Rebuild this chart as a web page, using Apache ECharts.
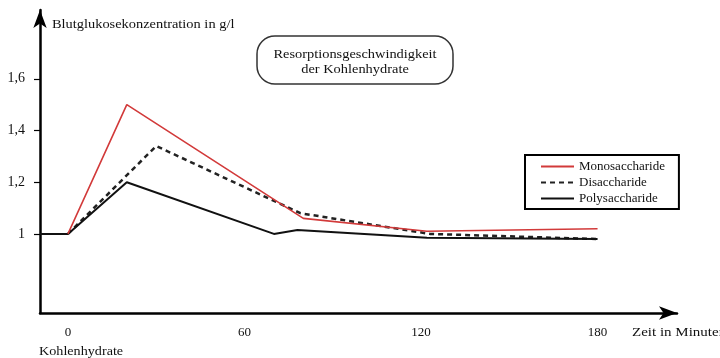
<!DOCTYPE html>
<html>
<head>
<meta charset="utf-8">
<script src="https://cdn.jsdelivr.net/npm/echarts@6/dist/echarts.min.js"></script>
<style>html,body{margin:0;padding:0;background:#fff;}#c{width:720px;height:358px;}</style>
</head>
<body>
<div id="c"></div>
<script>
// Data (time in minutes, blood glucose in g/l)
var seriesNames = ['Monosaccharide', 'Disaccharide', 'Polysaccharide'];
var monoValues = [[0, 1], [20, 1.5], [80, 1.06], [122, 1.01], [180, 1.02]];
var diValues = [[0, 1], [30, 1.34], [79, 1.08], [123, 1.0], [180, 0.98]];
var polyValues = [[-9.5, 1], [0, 1], [20, 1.2], [70, 1.0], [78, 1.015], [122, 0.985], [180, 0.98]];
var xTicks = [0, 60, 120, 180];
var yTicks = [1, 1.2, 1.4, 1.6];

var FONT = 'Liberation Serif';
var chart = echarts.init(document.getElementById('c'), null, {renderer: 'canvas'});
chart.setOption({
  animation: false,
  backgroundColor: '#fff',
  grid: {left: 40, right: 43, top: 10, bottom: 45, containLabel: false},
  xAxis: {
    type: 'value', min: -9.5, max: 207,
    splitLine: {show: false},
    axisLine: {show: true, onZero: false, lineStyle: {color: '#000', width: 2.5}, symbol: ['none', 'arrow'], symbolSize: [10, 18], symbolOffset: [0, 0]},
    axisTick: {show: false, customValues: xTicks},
    axisLabel: {customValues: xTicks, margin: 13, color: '#111', fontFamily: FONT, fontSize: 13}
  },
  yAxis: {
    type: 'value', min: 0.694, max: 1.866,
    splitLine: {show: false},
    axisLine: {show: true, onZero: false, lineStyle: {color: '#000', width: 2.5}, symbol: ['none', 'arrow'], symbolSize: [10, 18], symbolOffset: [0, 0]},
    axisTick: {show: true, customValues: yTicks, length: 6, lineStyle: {color: '#000', width: 1.2}},
    axisLabel: {customValues: yTicks, margin: 15, color: '#111', fontFamily: FONT, fontSize: 14,
      formatter: function (v) { return v === 1 ? '1' : v.toFixed(1).replace('.', ','); }}
  },
  legend: {
    orient: 'vertical', left: 525, top: 155,
    padding: [5, 14, 4, 15], itemGap: 3, itemWidth: 33, itemHeight: 14,
    borderColor: '#000', borderWidth: 2, backgroundColor: '#fff',
    itemStyle: {opacity: 0},
    textStyle: {fontFamily: FONT, fontSize: 13, color: '#111'},
    data: seriesNames
  },
  series: [
    {name: seriesNames[1], type: 'line', data: diValues, symbol: 'none', lineStyle: {color: '#222', width: 2.5, type: [5, 4]}, itemStyle: {color: '#222'}},
    {name: seriesNames[2], type: 'line', data: polyValues, symbol: 'none', lineStyle: {color: '#111', width: 2}, itemStyle: {color: '#111'}},
    {name: seriesNames[0], type: 'line', data: monoValues, symbol: 'none', lineStyle: {color: '#d23a3a', width: 1.6}, itemStyle: {color: '#d23a3a'}}
  ],
  graphic: [
    {type: 'rect', shape: {x: 257, y: 36, width: 196, height: 48, r: 18}, style: {fill: '#fff', stroke: '#333', lineWidth: 1.5}},
    {type: 'text', x: 355, y: 55, scaleX: 1.2, style: {text: 'Resorptionsgeschwindigkeit', fontFamily: FONT, fontSize: 12, fill: '#111', textAlign: 'center', textVerticalAlign: 'middle'}},
    {type: 'text', x: 355, y: 70, scaleX: 1.2, style: {text: 'der Kohlenhydrate', fontFamily: FONT, fontSize: 12, fill: '#111', textAlign: 'center', textVerticalAlign: 'middle'}},
    {type: 'text', x: 52, y: 25, scaleX: 1.2, style: {text: 'Blutglukosekonzentration in g/l', fontFamily: FONT, fontSize: 12, fill: '#111', textAlign: 'left', textVerticalAlign: 'middle'}},
    {type: 'text', x: 632, y: 333, scaleX: 1.2, style: {text: 'Zeit in Minuten', fontFamily: FONT, fontSize: 12.5, fill: '#111', textAlign: 'left', textVerticalAlign: 'middle'}},
    {type: 'text', x: 39, y: 352, scaleX: 1.18, style: {text: 'Kohlenhydrate', fontFamily: FONT, fontSize: 12, fill: '#111', textAlign: 'left', textVerticalAlign: 'middle'}}
  ]
});
</script>
</body>
</html>
